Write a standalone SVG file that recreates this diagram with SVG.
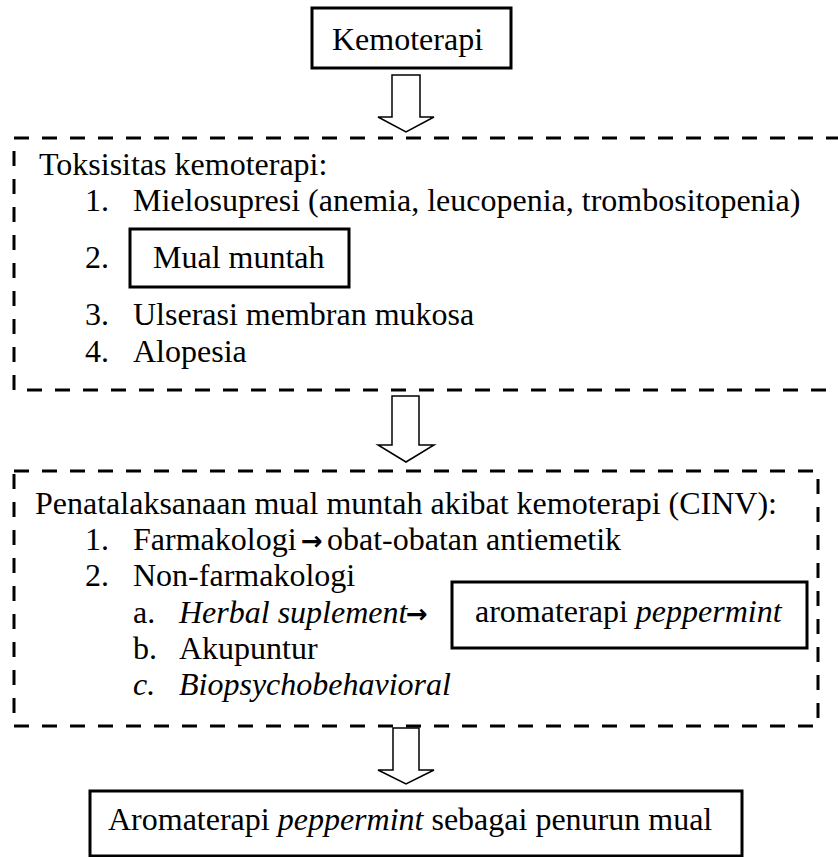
<svg xmlns="http://www.w3.org/2000/svg" width="838" height="857" viewBox="0 0 838 857">
<style>
text{font-family:"Liberation Serif","Times New Roman",serif;font-size:32px;fill:#000}
.i{font-style:italic}
.solid{fill:#fff;stroke:#000;stroke-width:3}
.dash{fill:none;stroke:#000;stroke-width:3;stroke-dasharray:15 13}
.barrow{fill:#fff;stroke:#000;stroke-width:1.5;stroke-linejoin:miter}
.sym{font-family:"DejaVu Sans",sans-serif;font-weight:bold;font-size:26px}
</style>
<rect width="838" height="857" fill="#fff"/>
<g id="connectors">
<polygon class="barrow" points="392,75 420,75 420,117 434,117 406,132 378,117 392,117"/>
<polygon class="barrow" points="392,396 419,396 419,445 434,445 406,462 378,445 392,445"/>
<polygon class="barrow" points="393,728 419,728 419,770 434,770 406,784 378,770 393,770"/>
</g>
<g id="kemoterapi">
<rect class="solid" x="312" y="8" width="199" height="60"/>
<text x="332" y="50">Kemoterapi</text>
</g>
<g id="toksisitas">
<rect class="dash" x="14" y="138" width="840" height="252"/>
<text x="39" y="175">Toksisitas kemoterapi:</text>
<text x="85" y="211">1.</text>
<text x="133" y="211">Mielosupresi (anemia, leucopenia, trombositopenia)</text>
<text x="85" y="268">2.</text>
<text x="85" y="325">3.</text>
<text x="133" y="325">Ulserasi membran mukosa</text>
<text x="85" y="362">4.</text>
<text x="133" y="362">Alopesia</text>
</g>
<g id="mual-muntah">
<rect class="solid" x="130" y="229" width="219" height="58"/>
<text x="153" y="268">Mual muntah</text>
</g>
<g id="penatalaksanaan">
<rect class="dash" x="14" y="471" width="804" height="255"/>
<text x="35" y="514">Penatalaksanaan mual muntah akibat kemoterapi (CINV):</text>
<text x="85" y="550">1.</text>
<text x="133" y="550">Farmakologi</text>
<text class="sym" x="301" y="550">→</text>
<text x="327" y="550">obat-obatan antiemetik</text>
<text x="85" y="586">2.</text>
<text x="133" y="586">Non-farmakologi</text>
<text x="133" y="623">a.</text>
<text class="i" x="179" y="623">Herbal suplement</text>
<text class="sym" x="406" y="623">→</text>
<text x="133" y="659">b.</text>
<text x="179" y="659">Akupuntur</text>
<text class="i" x="133" y="695">c.</text>
<text class="i" x="179" y="695">Biopsychobehavioral</text>
</g>
<g id="aromaterapi-peppermint">
<rect class="solid" x="452" y="582" width="355" height="66"/>
<text x="475" y="622">aromaterapi <tspan class="i">peppermint</tspan></text>
</g>
<g id="penurun-mual">
<rect class="solid" x="90" y="791" width="652" height="65"/>
<text x="108" y="830">Aromaterapi <tspan class="i">peppermint</tspan> sebagai penurun mual</text>
</g>
</svg>
